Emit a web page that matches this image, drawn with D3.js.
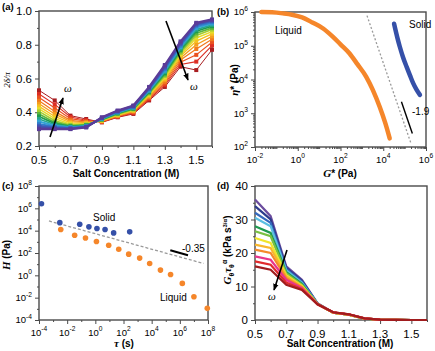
<!DOCTYPE html>
<html>
<head>
<style>
  html, body { margin: 0; background: #fff; }
  svg { font-family: "Liberation Sans", Arial, sans-serif; }
</style>
<script src="https://d3js.org/d3.v7.js"></script>
</head>
<body>
<svg width="435" height="351"></svg>
<script>
// ---------- data ----------
const salt = [0.5, 0.6, 0.7, 0.8, 0.9, 1.0, 1.1, 1.2, 1.3, 1.4, 1.5, 1.6];

// (a) 2delta/pi, one row per frequency (low omega = purple -> high omega = dark red)
const phaseA = [
  [0.300, 0.300, 0.300, 0.310, 0.370, 0.410, 0.440, 0.550, 0.680, 0.820, 0.930, 0.950],
  [0.310, 0.305, 0.302, 0.312, 0.368, 0.408, 0.437, 0.545, 0.672, 0.812, 0.925, 0.945],
  [0.320, 0.310, 0.305, 0.314, 0.366, 0.405, 0.434, 0.540, 0.664, 0.804, 0.918, 0.940],
  [0.330, 0.315, 0.308, 0.316, 0.364, 0.402, 0.431, 0.535, 0.655, 0.795, 0.910, 0.933],
  [0.345, 0.320, 0.310, 0.318, 0.362, 0.400, 0.428, 0.530, 0.647, 0.787, 0.900, 0.926],
  [0.360, 0.326, 0.313, 0.320, 0.360, 0.397, 0.425, 0.525, 0.639, 0.778, 0.890, 0.918],
  [0.375, 0.333, 0.316, 0.322, 0.358, 0.394, 0.422, 0.520, 0.631, 0.770, 0.880, 0.910],
  [0.390, 0.340, 0.320, 0.325, 0.356, 0.391, 0.419, 0.515, 0.623, 0.761, 0.868, 0.900],
  [0.405, 0.350, 0.325, 0.328, 0.354, 0.388, 0.416, 0.510, 0.615, 0.752, 0.855, 0.890],
  [0.420, 0.362, 0.330, 0.331, 0.352, 0.385, 0.413, 0.505, 0.607, 0.743, 0.840, 0.878],
  [0.435, 0.375, 0.337, 0.334, 0.350, 0.383, 0.410, 0.500, 0.599, 0.733, 0.822, 0.865],
  [0.450, 0.390, 0.344, 0.338, 0.348, 0.380, 0.407, 0.495, 0.591, 0.722, 0.800, 0.850],
  [0.468, 0.405, 0.352, 0.342, 0.346, 0.378, 0.404, 0.490, 0.580, 0.710, 0.775, 0.833],
  [0.488, 0.425, 0.362, 0.347, 0.344, 0.375, 0.400, 0.484, 0.570, 0.697, 0.740, 0.815],
  [0.508, 0.447, 0.372, 0.353, 0.342, 0.372, 0.395, 0.477, 0.560, 0.683, 0.700, 0.795],
  [0.530, 0.470, 0.380, 0.360, 0.340, 0.370, 0.390, 0.470, 0.550, 0.670, 0.650, 0.770]
];
const colorsA = ['#5b3b98', '#4a4aa8', '#3a5fbc', '#2f80cc', '#33a3d4', '#27a68c', '#1f9b4c',
  '#5cb63c', '#a6cd30', '#e6dc2a', '#f6c022', '#f59d1f', '#f17a1e', '#ea5220', '#dc2e24', '#a81d20'];

// (d) G tau^alpha (kPa s^(3/alpha))
const modulusD = [
  [36.0, 31.0, 16.0, 12.0, 5.0, 2.2, 1.6, 0.4, 0.1, 0.05, 0, 0],
  [34.0, 30.0, 15.6, 11.7, 4.9, 2.2, 1.6, 0.4, 0.1, 0.05, 0, 0],
  [32.0, 29.0, 15.2, 11.4, 4.9, 2.2, 1.6, 0.4, 0.1, 0.05, 0, 0],
  [30.5, 28.0, 14.8, 11.1, 4.9, 2.2, 1.6, 0.4, 0.1, 0.05, 0, 0],
  [28.0, 26.0, 14.3, 10.8, 4.8, 2.2, 1.6, 0.4, 0.1, 0.05, 0, 0],
  [26.5, 25.0, 13.9, 10.5, 4.8, 2.2, 1.6, 0.4, 0.1, 0.05, 0, 0],
  [24.5, 23.0, 13.4, 10.2, 4.8, 2.2, 1.6, 0.4, 0.1, 0.05, 0, 0],
  [22.5, 21.5, 13.0, 10.0, 4.8, 2.2, 1.6, 0.4, 0.1, 0.05, 0, 0],
  [21.0, 20.0, 12.5, 9.8, 4.7, 2.2, 1.6, 0.5, 0.1, 0.05, 0, 0],
  [19.0, 18.0, 12.0, 9.5, 4.7, 2.3, 1.7, 0.5, 0.1, 0.05, 0, 0],
  [17.5, 16.5, 11.2, 9.2, 4.7, 2.3, 1.7, 0.5, 0.1, 0.05, 0, 0],
  [16.0, 15.0, 10.5, 9.0, 4.7, 2.3, 1.7, 0.5, 0.1, 0.05, 0, 0]
];
const colorsD = ['#6b4c9e', '#2c3a8c', '#3468bd', '#5cbfe2', '#1e9a50', '#78c043',
  '#f0e52a', '#f8b62c', '#f5892a', '#e8358c', '#e12a2c', '#a01c1e'];

// (b) eta* vs G*
const liquidG   = [0.02, 0.063, 0.2, 0.54, 1.6, 4.8, 16, 42, 100, 260, 630, 1600, 3200, 6800, 1.26e4, 2.0e4];
const liquidEta = [1.0e6, 9.8e5, 9.1e5, 8.3e5, 6.9e5, 4.9e5, 3.2e5, 1.9e5, 1.1e5, 6.0e4, 2.8e4, 1.2e4, 5.0e3, 1.55e3, 500, 180];
const solidG    = [3.2e4, 4.5e4, 5.9e4, 8.5e4, 1.23e5, 1.8e5, 2.5e5, 3.6e5, 5.2e5];
const solidEta  = [4.5e5, 1.8e5, 9.5e4, 4.5e4, 2.4e4, 1.3e4, 7.8e3, 5.0e3, 3.5e3];
const guideB = [[1.74e3, 7.8e5], [1.95e5, 132]];
const slopeB = [[7.1e4, 2.2e3], [2.3e5, 250]];

// (c) H vs tau
const solidTau  = [1.5e-4, 3.0e-3, 7.8e-2, 0.35, 1.3, 4.9, 20, 275];
const solidH    = [2.6e6, 5.2e4, 3.7e4, 2.2e4, 1.55e4, 1.26e4, 6.3e3, 7.8e3];
const liquidTau = [3.5e-3, 3.4e-2, 0.2, 1.2, 8.9, 46, 234, 1.4e3, 7.2e3, 4.2e4, 2.2e5, 1.5e6, 1.0e7, 8.9e7];
const liquidH   = [1.26e4, 3.9e3, 2.2e3, 1.07e3, 500, 220, 79, 35, 11.5, 2.95, 1.2, 0.19, 0.012, 1.1e-3];
const guideC = [[5.1e-4, 7.4e4], [4.9e7, 11.5]];
const slopeC = [[2.1e5, 178], [3.8e6, 63]];

// ---------- helpers ----------
const svg = d3.select('svg');
const axisColor = '#4a4a4a';
const orange = '#f5862a';
const blue = '#3550a8';

svg.append('defs').append('marker')
  .attr('id', 'arrow')
  .attr('viewBox', '0 0 10 8')
  .attr('refX', 9).attr('refY', 4)
  .attr('markerWidth', 7).attr('markerHeight', 6)
  .attr('markerUnits', 'userSpaceOnUse')
  .attr('orient', 'auto')
  .append('path').attr('d', 'M0,0 L10,4 L0,8 z').attr('fill', '#000');

const clean = (g) => {
  g.select('.domain').remove();
  g.selectAll('.tick line').attr('stroke', axisColor).attr('stroke-width', 1);
};

function logLabel(sel, fs) {
  sel.each(function (d) {
    const t = d3.select(this);
    t.append('tspan').text('10');
    t.append('tspan').attr('dy', -fs * 0.45).attr('font-size', (fs * 0.7) + 'px')
      .text(Math.round(Math.log10(d)));
  });
}

function axes(g, x, y, o) {
  const [x0, x1] = x.range();
  const [yb, yt] = y.range();
  g.append('g').attr('transform', `translate(0,${yb})`)
    .call(d3.axisBottom(x).tickValues(o.xMinor).tickSize(2).tickFormat('')).call(clean);
  g.append('g').attr('transform', `translate(0,${yb})`)
    .call(d3.axisBottom(x).tickValues(o.xMajor).tickSize(4).tickFormat('')).call(clean);
  g.append('g').attr('transform', `translate(${x0},0)`)
    .call(d3.axisLeft(y).tickValues(o.yMinor).tickSize(2).tickFormat('')).call(clean);
  g.append('g').attr('transform', `translate(${x0},0)`)
    .call(d3.axisLeft(y).tickValues(o.yMajor).tickSize(4).tickFormat('')).call(clean);
  g.append('rect')
    .attr('x', x0).attr('y', yt).attr('width', x1 - x0).attr('height', yb - yt)
    .attr('fill', 'none').attr('stroke', axisColor).attr('stroke-width', 1.4);

  const xl = g.selectAll(null).data(o.xMajor).join('text')
    .attr('x', (d) => x(d)).attr('y', yb + 6 + o.fs)
    .attr('text-anchor', 'middle').attr('font-size', o.fs + 'px');
  const yl = g.selectAll(null).data(o.yMajor).join('text')
    .attr('x', x0 - 7).attr('y', (d) => y(d) + o.fs * 0.36)
    .attr('text-anchor', 'end').attr('font-size', o.fs + 'px');
  if (o.log) { logLabel(xl, o.fs); logLabel(yl, o.fs); }
  else { xl.text((d) => d.toFixed(1)); yl.text(o.yFmt); }
}

function logMinor(lo, hi) {
  const out = [];
  for (let e = lo; e < hi; e++) for (let k = 2; k < 10; k++) out.push(k * Math.pow(10, e));
  return out;
}

function title(x, y, parts, rotate) {
  const t = svg.append('text').attr('font-size', '10px').attr('font-weight', 'bold')
    .attr('text-anchor', 'middle')
    .attr('transform', `translate(${x},${y})` + (rotate ? ' rotate(-90)' : ''));
  parts.forEach((p) => {
    const s = t.append('tspan').text(p.t);
    if (p.it) s.attr('font-family', '"Liberation Serif", serif').attr('font-style', 'italic').attr('font-size', '11px');
    if (p.size) s.attr('font-size', p.size + 'px');
    if (p.dy) s.attr('dy', p.dy);
  });
  return t;
}

function arrow(x1, y1, x2, y2) {
  svg.append('line').attr('x1', x1).attr('y1', y1).attr('x2', x2).attr('y2', y2)
    .attr('stroke', '#000').attr('stroke-width', 1.6).attr('marker-end', 'url(#arrow)');
}

function omega(x, y) {
  svg.append('text').attr('x', x).attr('y', y).attr('font-size', '11px')
    .attr('font-family', '"Liberation Serif", serif').attr('font-style', 'italic').text('ω');
}

function letter(x, y, s) {
  svg.append('text').attr('x', x).attr('y', y).attr('font-size', '9.5px')
    .attr('font-weight', 'bold').text(s);
}

const saltTicks = [0.5, 0.7, 0.9, 1.1, 1.3, 1.5];
const saltMinor = [0.6, 0.8, 1.0, 1.2, 1.4, 1.6];

// ---------- (a) ----------
const xA = d3.scaleLinear().domain([0.5, 1.6]).range([39, 212]);
const yA = d3.scaleLinear().domain([0.2, 1.0]).range([146, 11]);
const gA = svg.append('g');
axes(gA, xA, yA, {
  xMajor: saltTicks, xMinor: saltMinor,
  yMajor: [0.2, 0.4, 0.6, 0.8, 1.0], yMinor: [0.3, 0.5, 0.7, 0.9],
  fs: 11.5, yFmt: (d) => d.toFixed(1)
});
const lineA = d3.line().x((d, i) => xA(salt[i])).y((d) => yA(d));
for (let i = phaseA.length - 1; i >= 0; i--) {
  const s = gA.append('g');
  s.append('path').attr('d', lineA(phaseA[i])).attr('fill', 'none')
    .attr('stroke', colorsA[i]).attr('stroke-width', 2.2 - i * 0.08);
  s.selectAll('rect').data(phaseA[i]).join('rect')
    .attr('x', (d, k) => xA(salt[k]) - 2).attr('y', (d) => yA(d) - 2)
    .attr('width', 4).attr('height', 4).attr('fill', colorsA[i]);
}
arrow(50, 137, 63, 98);
omega(64, 92);
arrow(166, 21, 188, 80);
omega(190, 90);
letter(2, 10, '(a)');
title(10, 80, [{ t: '2', it: true }, { t: 'δ', it: true }, { t: '/', it: true }, { t: 'π', it: true }], true)
  .attr('font-weight', 'normal').selectAll('tspan').attr('font-size', '9px');
title(126, 177, [{ t: 'Salt Concentration (M)' }]);

// ---------- (b) ----------
const xB = d3.scaleLog().domain([1e-2, 1e6]).range([255, 426]);
const yB = d3.scaleLog().domain([1e2, 1e6]).range([147, 12]);
const gB = svg.append('g');
axes(gB, xB, yB, {
  xMajor: [1e-2, 1, 1e2, 1e4, 1e6], xMinor: logMinor(-2, 6).concat([0.1, 10, 1e3, 1e5]),
  yMajor: [1e2, 1e3, 1e4, 1e5, 1e6], yMinor: logMinor(2, 6),
  fs: 9.5, log: true
});
const lineB = d3.line().x((d) => xB(d[0])).y((d) => yB(d[1]));
gB.append('path').attr('d', lineB(guideB)).attr('stroke', '#9a9a9a')
  .attr('stroke-width', 1.3).attr('stroke-dasharray', '2,2').attr('fill', 'none');
gB.append('path').attr('d', lineB(slopeB)).attr('stroke', '#000').attr('stroke-width', 1.4);
gB.append('path').attr('d', d3.line().curve(d3.curveMonotoneX)
  .x((d, i) => xB(liquidG[i])).y((d) => yB(d))(liquidEta))
  .attr('fill', 'none').attr('stroke', orange).attr('stroke-width', 4.5).attr('stroke-linecap', 'round');
gB.append('path').attr('d', d3.line().curve(d3.curveMonotoneX)
  .x((d, i) => xB(solidG[i])).y((d) => yB(d))(solidEta))
  .attr('fill', 'none').attr('stroke', blue).attr('stroke-width', 4.5).attr('stroke-linecap', 'round');
gB.append('text').attr('x', 275).attr('y', 34).attr('font-size', '10px').text('Liquid');
gB.append('text').attr('x', 409).attr('y', 28).attr('font-size', '10px').text('Solid');
gB.append('text').attr('x', 412).attr('y', 115).attr('font-size', '10px').text('-1.9');
letter(217, 15, '(b)');
title(238, 80, [{ t: 'η', it: true }, { t: '* (Pa)' }], true);
title(340, 177, [{ t: 'G', it: true }, { t: '* (Pa)' }]);

// ---------- (c) ----------
const xC = d3.scaleLog().domain([1e-4, 1e8]).range([39, 208]);
const yC = d3.scaleLog().domain([1e-4, 1e8]).range([320, 186]);
const gC = svg.append('g');
axes(gC, xC, yC, {
  xMajor: [1e-4, 1e-2, 1, 1e2, 1e4, 1e6, 1e8], xMinor: [1e-3, 0.1, 10, 1e3, 1e5, 1e7],
  yMajor: [1e-4, 1e-2, 1, 1e2, 1e4, 1e6, 1e8], yMinor: [1e-3, 0.1, 10, 1e3, 1e5, 1e7],
  fs: 9.5, log: true
});
const lineC = d3.line().x((d) => xC(d[0])).y((d) => yC(d[1]));
gC.append('path').attr('d', lineC(guideC)).attr('stroke', '#9a9a9a')
  .attr('stroke-width', 1.3).attr('stroke-dasharray', '3,2').attr('fill', 'none');
gC.append('path').attr('d', lineC(slopeC)).attr('stroke', '#000').attr('stroke-width', 2);
gC.selectAll('.liq').data(liquidTau).join('circle').attr('class', 'liq')
  .attr('cx', (d) => xC(d)).attr('cy', (d, i) => yC(liquidH[i])).attr('r', 2.8).attr('fill', orange);
gC.selectAll('.sol').data(solidTau).join('circle').attr('class', 'sol')
  .attr('cx', (d) => xC(d)).attr('cy', (d, i) => yC(solidH[i])).attr('r', 2.8).attr('fill', blue);
gC.append('text').attr('x', 93).attr('y', 221).attr('font-size', '10px').text('Solid');
gC.append('text').attr('x', 160).attr('y', 301).attr('font-size', '10px').text('Liquid');
gC.append('text').attr('x', 182).attr('y', 252).attr('font-size', '10px').text('-0.35');
letter(2, 189, '(c)');
title(10, 255, [{ t: 'H', it: true }, { t: ' (Pa)' }], true);
title(124, 347, [{ t: 'τ', it: true }, { t: ' (s)' }]);

// ---------- (d) ----------
const xD = d3.scaleLinear().domain([0.5, 1.6]).range([255, 427]);
const yD = d3.scaleLinear().domain([0, 40]).range([320, 186]);
const gD = svg.append('g');
axes(gD, xD, yD, {
  xMajor: saltTicks, xMinor: saltMinor,
  yMajor: [0, 10, 20, 30, 40], yMinor: [5, 15, 25, 35],
  fs: 11.5, yFmt: (d) => d
});
const lineD = d3.line().x((d, i) => xD(salt[i])).y((d) => yD(d));
modulusD.forEach((row, i) => {
  gD.append('path').attr('d', lineD(row)).attr('fill', 'none')
    .attr('stroke', colorsD[i]).attr('stroke-width', 2.2);
});
arrow(287, 250, 274, 290);
omega(268, 300);
letter(217, 189, '(d)');
title(231, 250, [
  { t: 'G', it: true }, { t: 'θ', size: 7, dy: 3 },
  { t: 'τ', it: true, dy: -3 }, { t: 'θ', size: 7, dy: 3 },
  { t: 'α', size: 7, dy: -7 }, { t: ' (kPa s', dy: 4 },
  { t: '3/α', size: 6, dy: -4 }, { t: ')', dy: 4 }
], true);
title(340, 347, [{ t: 'Salt Concentration (M)' }]);
</script>
</body>
</html>
